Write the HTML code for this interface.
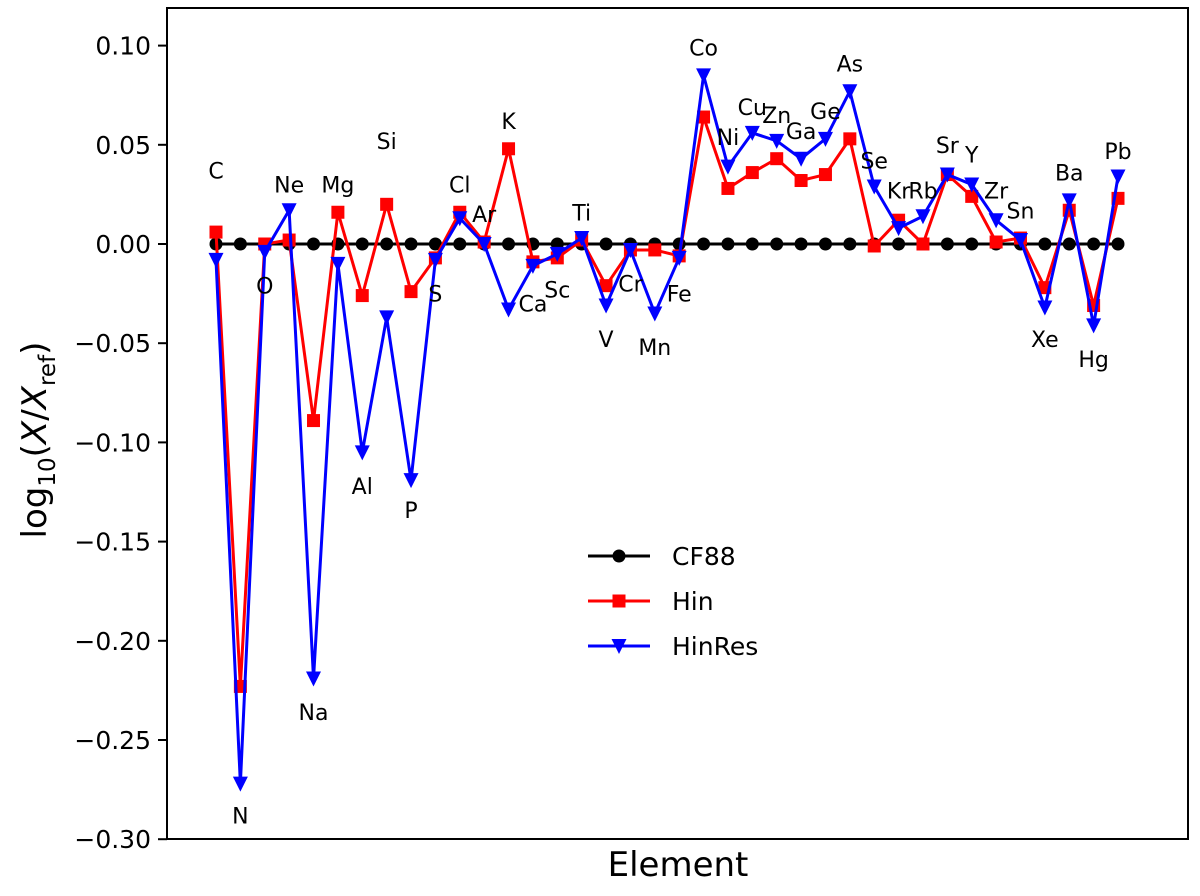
<!DOCTYPE html>
<html><head><meta charset="utf-8"><style>
body{margin:0;background:#fff}
svg text{font-family:"DejaVu Sans","Liberation Sans",sans-serif}
</style></head><body>
<svg id="chart" width="1200" height="891" xmlns="http://www.w3.org/2000/svg">
<rect x="0" y="0" width="1200" height="891" fill="#fff"/>
<g id="plot"></g>
<rect x="167" y="8" width="1021" height="831" fill="none" stroke="#000" stroke-width="2"/>
<g id="yticks"></g>
<text x="678" y="876" font-size="34" text-anchor="middle">Element</text>
<text transform="translate(46,440) rotate(-90)" font-size="34" text-anchor="middle">log<tspan font-size="23" dy="9">10</tspan><tspan dy="-9">(</tspan><tspan font-style="italic">X</tspan>/<tspan font-style="italic">X</tspan><tspan font-size="23" dy="9">ref</tspan><tspan dy="-9">)</tspan></text>
<g id="legend"></g>
</svg>
<script>
const elements=["C","N","O","Ne","Na","Mg","Al","Si","P","S","Cl","Ar","K","Ca","Sc","Ti","V","Cr","Mn","Fe","Co","Ni","Cu","Zn","Ga","Ge","As","Se","Kr","Rb","Sr","Y","Zr","Sn","Xe","Ba","Hg","Pb"];
const cf88=elements.map(()=>0);
const hin=[0.006,-0.223,0.000,0.002,-0.089,0.016,-0.026,0.020,-0.024,-0.007,0.016,0.001,0.048,-0.009,-0.007,0.002,-0.021,-0.003,-0.003,-0.006,0.064,0.028,0.036,0.043,0.032,0.035,0.053,-0.001,0.012,0.000,0.035,0.024,0.001,0.003,-0.022,0.017,-0.031,0.023];
const hinres=[-0.008,-0.272,-0.004,0.017,-0.219,-0.010,-0.105,-0.037,-0.119,-0.008,0.013,0.000,-0.033,-0.011,-0.005,0.003,-0.031,-0.003,-0.035,-0.007,0.085,0.039,0.056,0.052,0.043,0.053,0.077,0.029,0.008,0.014,0.035,0.030,0.012,0.002,-0.032,0.022,-0.041,0.034];
const labelY=[0.037,-0.288,-0.021,0.030,-0.236,0.030,-0.122,0.052,-0.134,-0.025,0.030,0.015,0.062,-0.030,-0.023,0.016,-0.048,-0.020,-0.052,-0.025,0.099,0.054,0.069,0.065,0.057,0.067,0.091,0.042,0.027,0.027,0.050,0.045,0.027,0.017,-0.048,0.036,-0.058,0.047];
const yTicks=[0.10,0.05,0.00,-0.05,-0.10,-0.15,-0.20,-0.25,-0.30];
const yTickLabels=["0.10","0.05","0.00","\u22120.05","\u22120.10","\u22120.15","\u22120.20","\u22120.25","\u22120.30"];
const NS="http://www.w3.org/2000/svg";
const xS=i=>216+i*(1118-216)/(elements.length-1);
const yS=v=>244-v*1984;
const plot=document.getElementById('plot');
function mk(t,a,p){const e=document.createElementNS(NS,t);for(const k in a)e.setAttribute(k,a[k]);p.appendChild(e);return e;}
const yt=document.getElementById('yticks');
yTicks.forEach((v,i)=>{
  const l=mk('line',{x1:158,x2:167,y1:yS(v),y2:yS(v),stroke:'#000','stroke-width':2},yt);
  
  
  const t=mk('text',{x:151,y:yS(v)+9,'font-size':25,'text-anchor':'end'},yt);
  t.textContent=yTickLabels[i];
  
  
});
function marker(kind,x,y,col,parent){
  let m;
  if(kind==='o')m=mk('circle',{cx:x,cy:y,r:6.5,fill:col},parent);
  else if(kind==='s')m=mk('rect',{x:x-6.5,y:y-6.5,width:13,height:13,fill:col},parent);
  else m=mk('polygon',{points:`${x-7.5},${y-7} ${x+7.5},${y-7} ${x},${y+8}`,fill:col},parent);
  return m;
}
function series(vals,col,kind,name){
  const g=mk('g',{},plot);
  
  
  const pl=mk('polyline',{points:vals.map((v,i)=>xS(i)+','+yS(v)).join(' '),fill:'none',stroke:col,'stroke-width':3},g);
  
  
  vals.forEach((v,i)=>{const m=marker(kind,xS(i),yS(v),col,g);
    
    });
}
series(cf88,'#000','o','cf88');
series(hin,'#f00','s','hin');
series(hinres,'#00f','v','hinres');
elements.forEach((e,i)=>{
  const t=mk('text',{x:xS(i),y:yS(labelY[i])+8,'font-size':22,'text-anchor':'middle'},plot);
  t.textContent=e;
  
  
});
const lg=document.getElementById('legend');
[["CF88",'#000','o',556],["Hin",'#f00','s',601],["HinRes",'#00f','v',646]].forEach(([n,c,k,y])=>{
  const g=mk('g',{},lg);
  
  
  mk('line',{x1:588,x2:650,y1:y,y2:y,stroke:c,'stroke-width':3},g);
  marker(k,619,y,c,g);
  const t=mk('text',{x:672,y:y+9,'font-size':25},g);t.textContent=n;
});
</script>
</body></html>
